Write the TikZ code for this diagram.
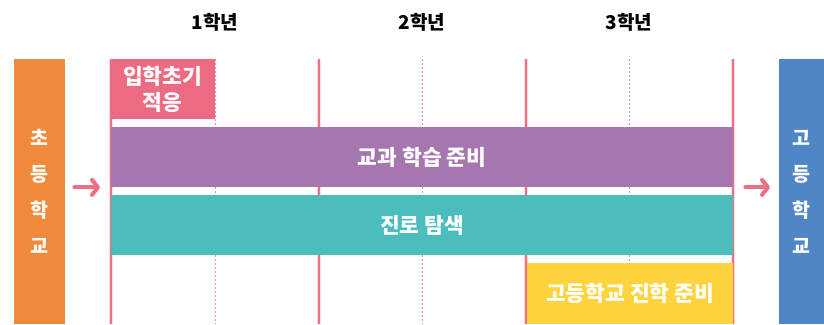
\documentclass[tikz,border=0pt]{standalone}
\usepackage{fontspec}
\setmainfont{Noto Sans CJK KR}
\usetikzlibrary{arrows.meta, positioning}

\definecolor{elemorange}{HTML}{F08A3A}
\definecolor{highblue}{HTML}{5086C6}
\definecolor{linepink}{HTML}{EE6E84}
\definecolor{adaptpink}{HTML}{EC6B82}
\definecolor{studypurple}{HTML}{A676AF}
\definecolor{careerteal}{HTML}{4BBDBD}
\definecolor{prepyellow}{HTML}{FED33D}

\tikzset{
  school/.style={anchor=north west, minimum width=#1, minimum height=265pt,
    inner sep=0pt, text=white, align=center,
    font=\fontsize{19.5}{36}\selectfont\bfseries},
  band/.style={anchor=north west, minimum height=60pt, inner sep=0pt,
    text=white, font=\fontsize{21.5}{26}\selectfont\bfseries, align=center},
  grade/.style={font=\fontsize{19}{20}\selectfont\bfseries},
  flow/.style={linepink, line width=4pt, line cap=round,
    -{Straight Barb[length=6pt, width=15pt, round]}},
}

\begin{document}
\begin{tikzpicture}[x=1pt, y=-1pt]
  \useasboundingbox (0,0) rectangle (824,324);

  % grade columns and guide lines
  \foreach \x/\name in {215/1학년, 422/2학년, 629/3학년} {
    \node[grade] (g\x) at (\x,22) {\name};
    \draw[linepink!80, line width=0.6pt, dash pattern=on 2pt off 2pt] (\x,59) -- (\x,324);
  }
  \foreach \x in {111, 319, 526, 733} {
    \draw[linepink!25, line width=4pt] (\x,59) -- (\x,324);
    \draw[linepink, line width=1.6pt] (\x,59) -- (\x,324);
  }

  % schools
  \node[school=51pt, fill=elemorange] (elem) at (14,59) {초\\등\\학\\교};
  \node[school=45pt, fill=highblue] (high) at (779,59) {고\\등\\학\\교};

  % activity bands
  \node[band, fill=adaptpink, minimum width=105pt] (adapt) at (110,59) {입학초기\\적응};
  \node[band, fill=studypurple, minimum width=622pt] (study) at (111,127) {교과 학습 준비};
  \node[band, fill=careerteal, minimum width=622pt] (career) at (111,195) {진로 탐색};
  \node[band, fill=prepyellow, minimum width=206pt, minimum height=61pt] (prep) at (527,263) {고등학교 진학 준비};

  % transitions
  \draw[flow] ([xshift=9pt]elem.east |- study.south) -- ([xshift=-11pt]study.south west);
  \draw[flow] ([xshift=12pt]study.south east) -- ([xshift=-9pt]high.west |- study.south);
\end{tikzpicture}
\end{document}
